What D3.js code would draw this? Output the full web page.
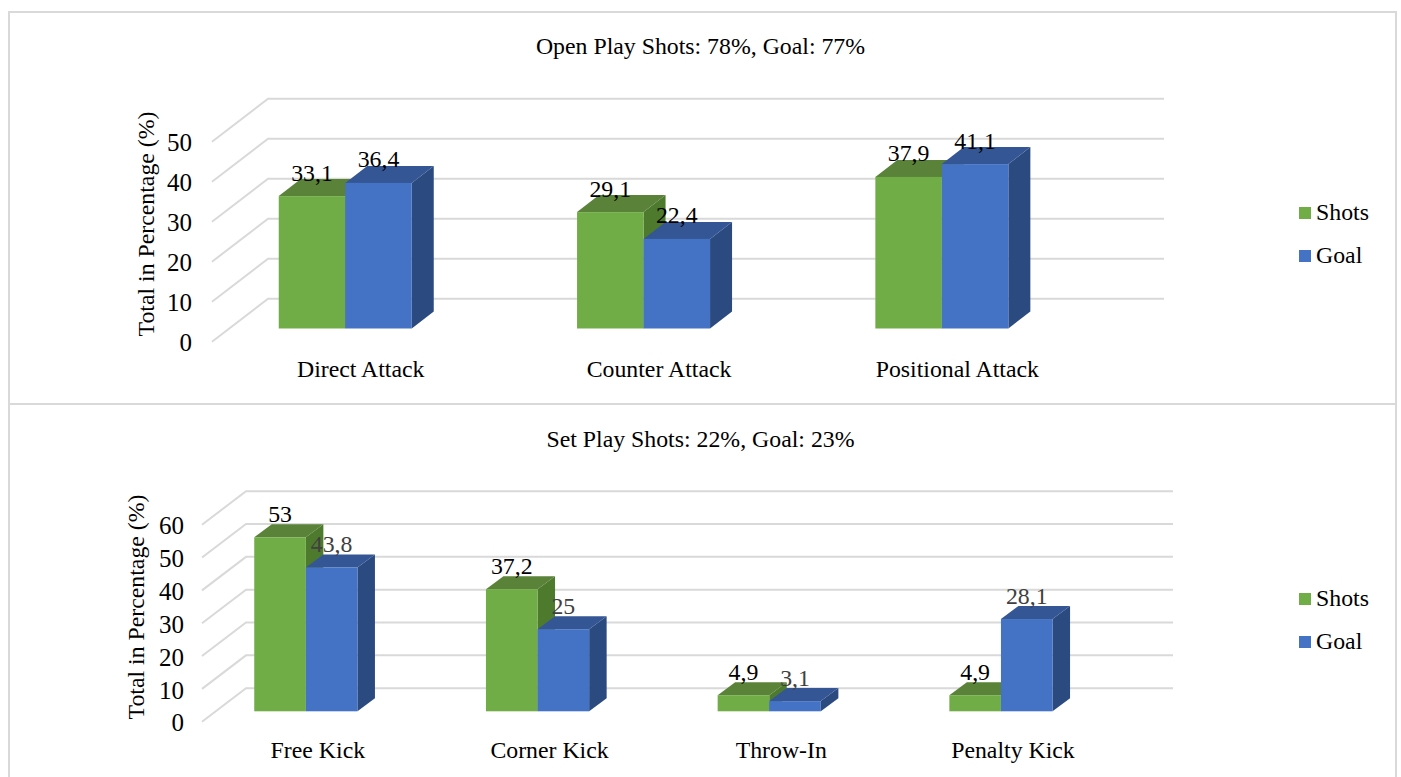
<!DOCTYPE html>
<html>
<head>
<meta charset="utf-8">
<script src="https://cdn.jsdelivr.net/npm/d3@7"></script>
<style>
  html, body { margin: 0; padding: 0; background: #fff; overflow: hidden; }
  text { font-family: "Liberation Serif", serif; fill: #000; }
</style>
</head>
<body>
<div id="chart"></div>
<script>
const seriesNames = ['Shots', 'Goal'];

const openCategories = ['Direct Attack', 'Counter Attack', 'Positional Attack'];
const openShots = [33.1, 29.1, 37.9];
const openGoal = [36.4, 22.4, 41.1];
const openTicks = [0, 10, 20, 30, 40, 50];

const setCategories = ['Free Kick', 'Corner Kick', 'Throw-In', 'Penalty Kick'];
const setShots = [53, 37.2, 4.9, 4.9];
const setGoal = [43.8, 25, 3.1, 28.1];
const setTicks = [0, 10, 20, 30, 40, 50, 60];

const colors = {
  Shots: { front: '#70ad47', top: '#5a8238', side: '#4e7a2e' },
  Goal: { front: '#4472c4', top: '#355694', side: '#2b4a80' }
};

const svg = d3.select('#chart').append('svg')
  .attr('width', 1401)
  .attr('height', 777);

// panel frames
[[9, 12, 1387, 392], [9, 404, 1387, 400]].forEach(r => {
  svg.append('rect')
    .attr('x', r[0]).attr('y', r[1])
    .attr('width', r[2]).attr('height', r[3])
    .attr('fill', 'none')
    .attr('stroke', '#d9d9d9')
    .attr('stroke-width', 2);
});

function drawChart(o) {
  const g = svg.append('g');

  g.append('text')
    .attr('x', o.titleX).attr('y', o.titleY)
    .attr('text-anchor', 'middle')
    .style('font-size', '23.8px')
    .text(o.title);

  // y is the value scale on the front edge of the floor
  const y = d3.scaleLinear().domain(d3.extent(o.ticks)).range(o.yRange);
  const x = d3.scaleBand().domain(o.categories).range(o.xRange);
  const xs = d3.scaleBand().domain(seriesNames).range([-o.barW, o.barW]);

  // walls
  g.selectAll('.grid').data(o.ticks).enter().append('path')
    .attr('class', 'grid')
    .attr('fill', 'none')
    .attr('stroke', '#d9d9d9')
    .attr('stroke-width', 2)
    .attr('d', d => d3.line()([
      [o.wallX, y(d)],
      [o.wallX + o.wallDx, y(d) - o.wallDy],
      [o.wallRight, y(d) - o.wallDy]
    ]));

  // bars
  o.categories.forEach((c, i) => {
    const cx = x(c) + x.bandwidth() / 2;
    const values = { Shots: o.shots[i], Goal: o.goal[i] };

    seriesNames.forEach(s => {
      const x0 = cx + xs(s);
      const x1 = x0 + xs.bandwidth();
      const yb = y(0) - o.floor;
      const yt = y(values[s]) - o.floor;
      const bar = g.append('g');

      bar.append('path')
        .attr('fill', colors[s].side)
        .attr('d', d3.line()([[x1, yb], [x1 + o.barDx, yb - o.barDy], [x1 + o.barDx, yt - o.barDy], [x1, yt]]) + 'Z');
      bar.append('path')
        .attr('fill', colors[s].top)
        .attr('d', d3.line()([[x0, yt], [x0 + o.barDx, yt - o.barDy], [x1 + o.barDx, yt - o.barDy], [x1, yt]]) + 'Z');
      bar.append('rect')
        .attr('x', x0).attr('y', yt)
        .attr('width', x1 - x0).attr('height', yb - yt)
        .attr('fill', colors[s].front);
    });
  });

  // value labels go on top of all bars
  o.categories.forEach((c, i) => {
    const cx = x(c) + x.bandwidth() / 2;
    seriesNames.forEach(s => {
      const v = s === 'Shots' ? o.shots[i] : o.goal[i];
      g.append('text')
        .attr('x', cx + xs(s) + xs.bandwidth() / 2)
        .attr('y', y(v) - o.floor - 15.5)
        .attr('text-anchor', 'middle')
        .style('font-size', '23.8px')
        .style('fill', s === 'Goal' && o.grayGoal ? '#404040' : '#000')
        .text(String(v).replace('.', ','));
    });
  });

  // axes
  const yAxis = g.append('g')
    .attr('transform', `translate(${o.tickX},1)`)
    .call(d3.axisLeft(y).tickValues(o.ticks).tickSize(0).tickPadding(0));
  yAxis.select('.domain').remove();
  yAxis.selectAll('text').style('font-size', '25px').attr('dy', '0.33em');

  const xAxis = g.append('g')
    .attr('transform', `translate(${o.labelDx},${o.labelY})`)
    .call(d3.axisBottom(x).tickSize(0).tickPadding(0));
  xAxis.select('.domain').remove();
  xAxis.selectAll('text').style('font-size', '23.8px').attr('dy', '0');

  g.append('text')
    .attr('transform', `translate(${o.yTitleX},${o.yTitleY}) rotate(-90)`)
    .attr('text-anchor', 'middle')
    .style('font-size', '23.8px')
    .text('Total in Percentage (%)');

  // legend
  seriesNames.forEach((s, i) => {
    const ly = o.legendY + i * 43;
    g.append('rect')
      .attr('x', 1299).attr('y', ly - 6)
      .attr('width', 12).attr('height', 12)
      .attr('fill', colors[s].front);
    g.append('text')
      .attr('x', 1316).attr('y', ly + 7)
      .style('font-size', '23.8px')
      .text(s);
  });
}

drawChart({
  title: 'Open Play Shots: 78%, Goal: 77%',
  titleX: 700.5, titleY: 54,
  categories: openCategories, shots: openShots, goal: openGoal, ticks: openTicks,
  yRange: [341.7, 141.7],
  xRange: [196.1, 1091],
  barW: 66.5, barDx: 22, barDy: 17, floor: 13.2,
  wallX: 212, wallDx: 56, wallDy: 43, wallRight: 1164,
  tickX: 192, labelDx: 15.5, labelY: 377,
  yTitleX: 154, yTitleY: 224,
  legendY: 213, grayGoal: false
});

drawChart({
  title: 'Set Play Shots: 22%, Goal: 23%',
  titleX: 700.5, titleY: 447,
  categories: setCategories, shots: setShots, goal: setGoal, ticks: setTicks,
  yRange: [721.7, 524.7],
  xRange: [190, 1116.8],
  barW: 51.6, barDx: 17.5, barDy: 13, floor: 10.4,
  wallX: 202, wallDx: 44, wallDy: 33.5, wallRight: 1173,
  tickX: 184, labelDx: 12, labelY: 758,
  yTitleX: 144, yTitleY: 607,
  legendY: 599, grayGoal: true
});
</script>
</body>
</html>
